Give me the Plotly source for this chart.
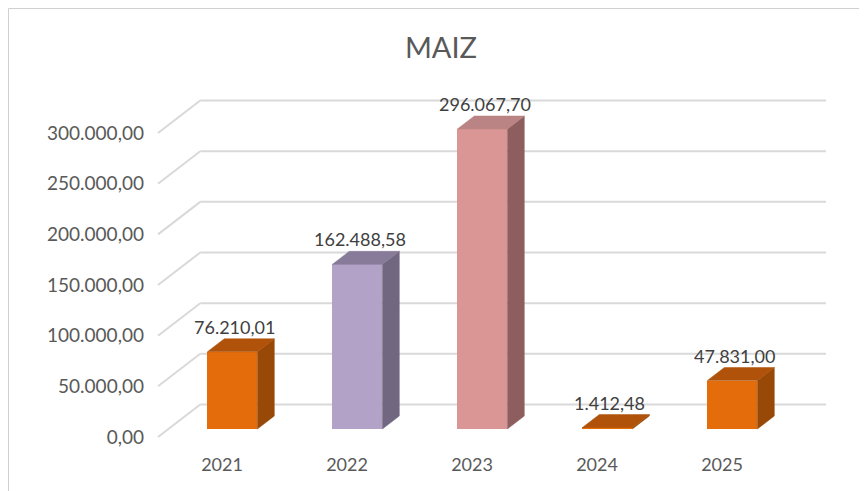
import plotly.graph_objects as go

# ---- data ----
years = ["2021", "2022", "2023", "2024", "2025"]
values = [76210.01, 162488.58, 296067.70, 1412.48, 47831.00]
value_labels = ["76.210,01", "162.488,58", "296.067,70", "1.412,48", "47.831,00"]
front_colors = ["#E46C0A", "#B3A2C7", "#D99694", "#E46C0A", "#E46C0A"]
side_colors = ["#984807", "#716780", "#8E5E5E", "#984807", "#984807"]
top_colors = ["#B05209", "#877B99", "#B98483", "#B05209", "#B05209"]
y_ticks = [0, 50000, 100000, 150000, 200000, 250000, 300000]

# ---- pseudo-3D geometry (reference pixel space; page body adds 8px offset) ----
OFF = 8
W, H = 867 - OFF, 491 - OFF
PL, PR, PT, PB = 145, 830, 95, 452        # plot area in reference pixels
X0_PX, CAT_PX = 222, 125                  # category 0 position / spacing
Y0_PX, PX_PER_UNIT = 437, 1.0133 / 1000   # value 0 pixel, px per value unit

x_range = [(PL - X0_PX) / CAT_PX, (PR - X0_PX) / CAT_PX]
y_range = [(Y0_PX - PB) / PX_PER_UNIT, (Y0_PX - PT) / PX_PER_UNIT]

RATIO = 1.3            # horizontal px per vertical px of depth


def dxy(d):
    """depth d (px) -> offset in data units (x, y)"""
    return (RATIO * d / CAT_PX, d / PX_PER_UNIT)


BAR_FRONT, BAR_BACK, WALL = 8, 21, 32.5
HALF_W = 0.2
GRID_LEFT_FRONT = (158 - X0_PX) / CAT_PX
GRID_RIGHT_BACK = (826 - X0_PX) / CAT_PX
FONT = "Lato, Calibri, sans-serif"

fig = go.Figure()

# grid lines (floor diagonal + back wall) as shapes below the bars
shapes = []
wx, wy = dxy(WALL)
for v in y_ticks:
    pts = [(GRID_LEFT_FRONT, v), (GRID_LEFT_FRONT + wx, v + wy), (GRID_RIGHT_BACK, v + wy)]
    for (xa, ya), (xb, yb) in zip(pts[:-1], pts[1:]):
        shapes.append(dict(type="line", xref="x", yref="y", x0=xa, y0=ya, x1=xb, y1=yb,
                           line=dict(color="#D9D9D9", width=2), layer="below"))

fx, fy = dxy(BAR_FRONT)
bx, by = dxy(BAR_BACK)
for i, (v, fc, sc, tc) in enumerate(zip(values, front_colors, side_colors, top_colors)):
    c = i + fx
    xr = c + HALF_W
    xl = c - HALF_W
    # side face
    fig.add_trace(go.Scatter(
        x=[xr, xr + (bx - fx), xr + (bx - fx), xr, xr],
        y=[fy, by, v + by, v + fy, fy],
        mode="lines", fill="toself", fillcolor=sc,
        line=dict(color=sc, width=0.5), hoverinfo="skip", showlegend=False))
    # top face
    fig.add_trace(go.Scatter(
        x=[xl, xr, xr + (bx - fx), xl + (bx - fx), xl],
        y=[v + fy, v + fy, v + by, v + by, v + fy],
        mode="lines", fill="toself", fillcolor=tc,
        line=dict(color=tc, width=0.5), hoverinfo="skip", showlegend=False))

# front faces as real bars
fig.add_trace(go.Bar(
    x=[i + fx for i in range(len(years))], y=values, base=fy,
    width=2 * HALF_W, marker=dict(color=front_colors, line=dict(width=0)),
    showlegend=False, hoverinfo="skip"))

# data labels
for i, (v, lab) in enumerate(zip(values, value_labels)):
    fig.add_annotation(
        x=i + fx + 0.02, y=v + by, text=lab, showarrow=False,
        yanchor="bottom", yshift=-1,
        font=dict(family=FONT, size=18, color="#404040"))

# chart-area border (only left and top edges are visible in the reference)
bx0 = (OFF + 0.5 - PL) / (PR - PL)
by1 = (PB - (OFF + 0.5)) / (PB - PT)
shapes.append(dict(type="line", xref="paper", yref="paper", x0=bx0, x1=bx0, y0=-0.2, y1=by1,
                   line=dict(color="#D0D0D0", width=1), layer="below"))
shapes.append(dict(type="line", xref="paper", yref="paper", x0=bx0, x1=1.1, y0=by1, y1=by1,
                   line=dict(color="#D0D0D0", width=1), layer="below"))

fig.update_layout(
    width=W, height=H,
    margin=dict(l=PL - OFF, r=(867 - PR), t=PT - OFF, b=(491 - PB)),
    paper_bgcolor="white", plot_bgcolor="white",
    separators=",.",
    title=dict(text="MAIZ", x=(441 - OFF) / W, xanchor="center",
               y=1 - (48 - OFF) / H, yanchor="middle",
               font=dict(family=FONT, size=29, color="#595959")),
    xaxis=dict(range=x_range, tickmode="array", tickvals=list(range(len(years))),
               ticktext=years, showgrid=False, zeroline=False, showline=False,
               ticks="", tickfont=dict(family=FONT, size=18, color="#595959")),
    yaxis=dict(range=y_range, tickmode="array", tickvals=y_ticks, tickformat=",.2f",
               showgrid=False, zeroline=False, showline=False, ticks="",
               tickfont=dict(family=FONT, size=19, color="#595959")),
    bargap=0,
    shapes=shapes,
)

fig.write_html("out.html")
